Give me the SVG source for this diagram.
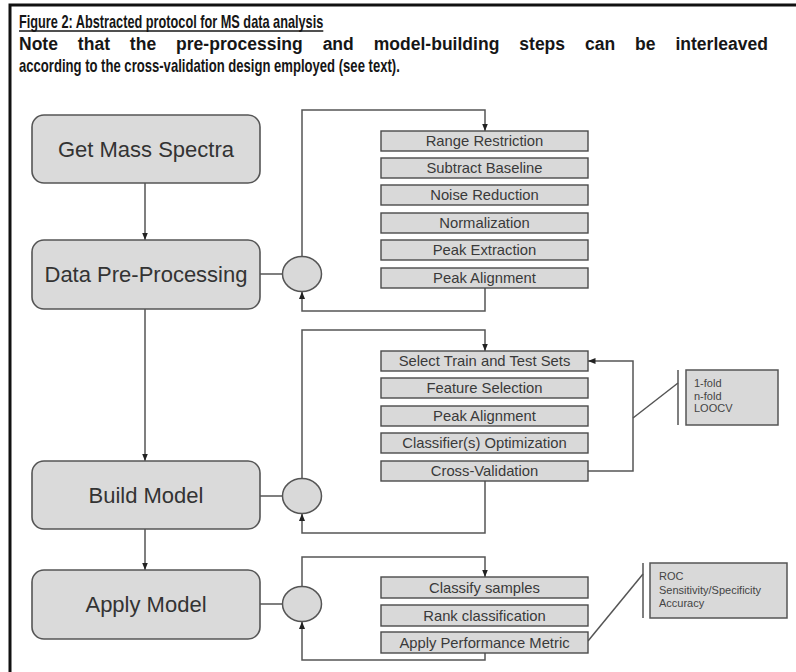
<svg xmlns="http://www.w3.org/2000/svg" width="796" height="672" viewBox="0 0 796 672">
  <style>
    .frame { stroke: #111; stroke-width: 3; fill: none; }
    .hdr { font-family: "Liberation Sans", Arial, sans-serif; font-weight: bold; font-size: 17.5px; fill: #161616; }
    .stage rect { fill: #dadada; stroke: #555; stroke-width: 1.6; }
    .stage text { font-family: "Liberation Sans", Arial, sans-serif; font-size: 22px; fill: #333; text-anchor: middle; }
    .step rect { fill: #d9d9d9; stroke: #4a4a4a; stroke-width: 1.4; }
    .step text { font-family: "Liberation Sans", Arial, sans-serif; font-size: 14.8px; fill: #3a3a3a; text-anchor: middle; }
    .hub { fill: #d9d9d9; stroke: #555; stroke-width: 1.5; }
    .note rect { fill: #d9d9d9; stroke: #555; stroke-width: 1.5; }
    .note text { font-family: "Liberation Sans", Arial, sans-serif; font-size: 11px; fill: #444; }
    .wire { fill: none; stroke: #555; stroke-width: 1.5; }
    .arr { fill: none; stroke: #555; stroke-width: 1.5; marker-end: url(#tip); }
  </style>
  <defs>
    <marker id="tip" markerUnits="userSpaceOnUse" markerWidth="8" markerHeight="8" viewBox="0 0 8 8" refX="7.5" refY="4" orient="auto">
      <path d="M0,1 L7.5,4 L0,7 Z" fill="#222"/>
    </marker>
  </defs>

  <!-- page frame (top and left rules) -->
  <path class="frame" d="M10,672 V5 H796"/>

  <!-- heading -->
  <g id="heading">
    <g transform="translate(19,0) scale(0.85,1)">
      <text class="hdr" x="0" y="28" font-size="16.5" textLength="358" lengthAdjust="spacingAndGlyphs">Figure 2: Abstracted protocol for MS data analysis</text>
      <line x1="0" y1="31" x2="358" y2="31" stroke="#161616" stroke-width="1.3"/>
      <text class="hdr" x="0" y="72" textLength="448" lengthAdjust="spacingAndGlyphs">according to the cross-validation design employed (see text).</text>
    </g>
    <!-- justified line: stretch falls on the word gaps -->
    <text class="hdr" x="19" y="50" word-spacing="15" textLength="749" lengthAdjust="spacing">Note that the pre-processing and model-building steps can be interleaved</text>
  </g>

  <!-- connectors -->
  <g id="connectors">
    <!-- main flow -->
    <path class="arr" d="M145,183 V240"/>
    <path class="arr" d="M145,309 V461"/>
    <path class="arr" d="M145,529 V570"/>
    <!-- stage to hub -->
    <path class="wire" d="M260,274 H282.5"/>
    <path class="wire" d="M260,496 H282.5"/>
    <path class="wire" d="M260,604 H282.5"/>
    <!-- pre-processing loop -->
    <path class="arr" d="M302,256.5 V110 H485 V131"/>
    <path class="arr" d="M485,288 V311 H302 V291.5"/>
    <!-- model-building loop -->
    <path class="arr" d="M302,478.5 V330 H485 V351"/>
    <path class="arr" d="M485,481 V533 H302 V513.5"/>
    <!-- cross-validation feedback -->
    <path class="arr" d="M588,471 H633 V361 H588"/>
    <!-- apply loop -->
    <path class="arr" d="M302,586.5 V557 H485 V577"/>
    <path class="arr" d="M485,653 V660 H302 V621.5"/>
    <!-- callout leaders -->
    <path class="wire" d="M633,418 L678,383"/>
    <path class="wire" d="M678,370 V425"/>
    <path class="wire" d="M588,641 L643,574"/>
    <path class="wire" d="M643,563 V618"/>
  </g>

  <!-- stages -->
  <g id="get-mass-spectra" class="stage">
    <rect x="32" y="115" width="228" height="68" rx="12"/>
    <text x="146" y="157">Get Mass Spectra</text>
  </g>
  <g id="data-pre-processing" class="stage">
    <rect x="32" y="240" width="228" height="69" rx="12"/>
    <text x="146" y="282">Data Pre-Processing</text>
  </g>
  <g id="build-model" class="stage">
    <rect x="32" y="461" width="228" height="68" rx="12"/>
    <text x="146" y="503">Build Model</text>
  </g>
  <g id="apply-model" class="stage">
    <rect x="32" y="570" width="228" height="69" rx="12"/>
    <text x="146" y="612">Apply Model</text>
  </g>

  <!-- hubs -->
  <g id="hub-pre"><ellipse class="hub" cx="302" cy="274" rx="19.5" ry="17.5"/></g>
  <g id="hub-build"><ellipse class="hub" cx="302" cy="496" rx="19.5" ry="17.5"/></g>
  <g id="hub-apply"><ellipse class="hub" cx="302" cy="604" rx="19.5" ry="17.5"/></g>

  <!-- pre-processing steps -->
  <g id="range-restriction" class="step"><rect x="381" y="131" width="207" height="20"/><text x="484.5" y="146">Range Restriction</text></g>
  <g id="subtract-baseline" class="step"><rect x="381" y="158" width="207" height="20"/><text x="484.5" y="173">Subtract Baseline</text></g>
  <g id="noise-reduction" class="step"><rect x="381" y="185" width="207" height="20"/><text x="484.5" y="200">Noise Reduction</text></g>
  <g id="normalization" class="step"><rect x="381" y="213" width="207" height="20"/><text x="484.5" y="228">Normalization</text></g>
  <g id="peak-extraction" class="step"><rect x="381" y="240" width="207" height="20"/><text x="484.5" y="255">Peak Extraction</text></g>
  <g id="peak-alignment-pre" class="step"><rect x="381" y="268" width="207" height="20"/><text x="484.5" y="283">Peak Alignment</text></g>

  <!-- model-building steps -->
  <g id="select-train-test" class="step"><rect x="381" y="351" width="207" height="20"/><text x="484.5" y="366">Select Train and Test Sets</text></g>
  <g id="feature-selection" class="step"><rect x="381" y="378" width="207" height="20"/><text x="484.5" y="393">Feature Selection</text></g>
  <g id="peak-alignment-build" class="step"><rect x="381" y="406" width="207" height="20"/><text x="484.5" y="421">Peak Alignment</text></g>
  <g id="classifier-optimization" class="step"><rect x="381" y="433" width="207" height="20"/><text x="484.5" y="448">Classifier(s) Optimization</text></g>
  <g id="cross-validation" class="step"><rect x="381" y="461" width="207" height="20"/><text x="484.5" y="476">Cross-Validation</text></g>

  <!-- apply steps -->
  <g id="classify-samples" class="step"><rect x="381" y="577" width="207" height="21"/><text x="484.5" y="592.5">Classify samples</text></g>
  <g id="rank-classification" class="step"><rect x="381" y="605" width="207" height="21"/><text x="484.5" y="620.5">Rank classification</text></g>
  <g id="apply-performance-metric" class="step"><rect x="381" y="632" width="207" height="21"/><text x="484.5" y="647.5">Apply Performance Metric</text></g>

  <!-- callout notes -->
  <g id="cv-options" class="note">
    <rect x="686" y="370" width="92" height="55"/>
    <text x="694" y="387">1-fold</text>
    <text x="694" y="399.5">n-fold</text>
    <text x="694" y="412">LOOCV</text>
  </g>
  <g id="metrics" class="note">
    <rect x="650" y="563" width="137" height="55"/>
    <text x="659" y="580">ROC</text>
    <text x="659" y="593.5">Sensitivity/Specificity</text>
    <text x="659" y="607">Accuracy</text>
  </g>
</svg>
